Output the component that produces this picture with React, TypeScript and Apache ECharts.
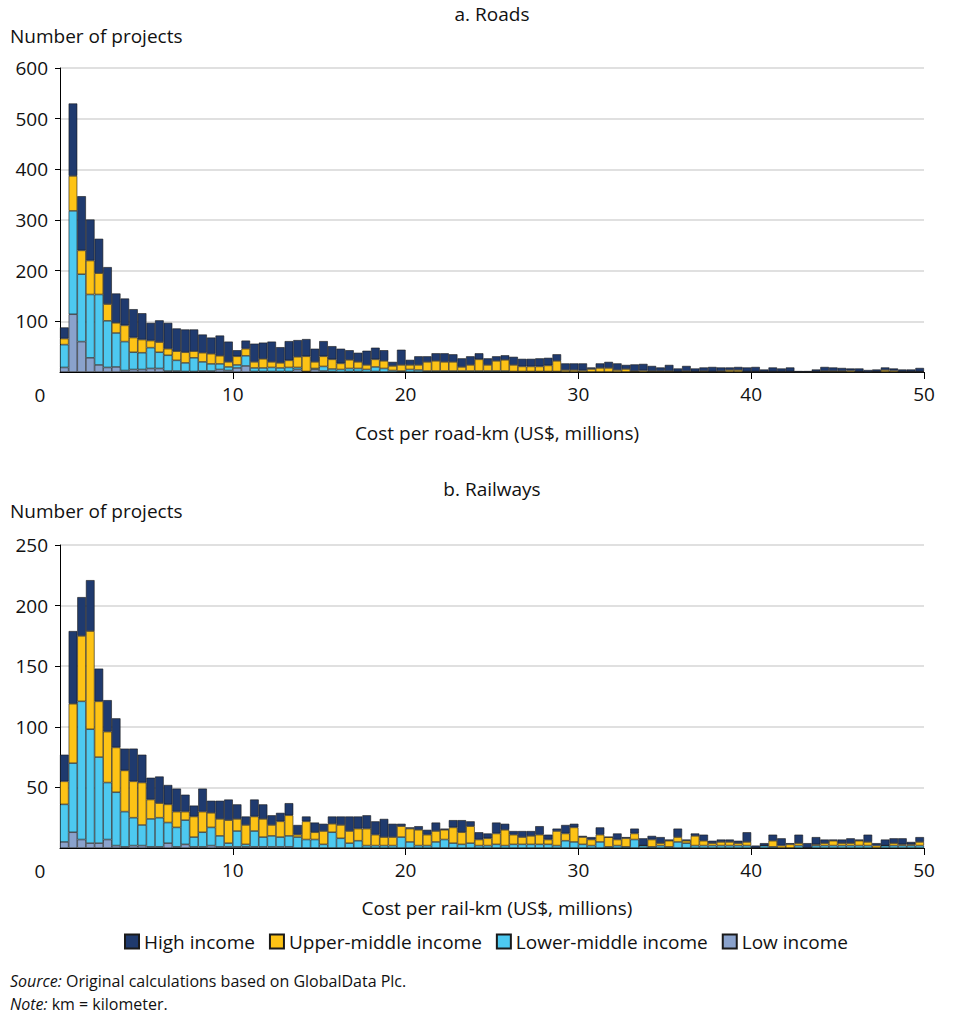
import React, { useEffect, useRef } from "react";
import * as echarts from "echarts";

// Bins of US$0.5 million from 0 to 50
const BIN_WIDTH = 0.5;
const binLabels: string[] = Array.from({ length: 100 }, (_, i) => `${BIN_WIDTH * i}–${BIN_WIDTH * (i + 1)}`);

const seriesNames = ["High income", "Upper-middle income", "Lower-middle income", "Low income"];
const xTickLabels = ["0", "10", "20", "30", "40", "50"];

// a. Roads (number of projects per bin)
const roadsLow = [9,114,60,28,14,9,10,3,5,5,7,7,2,2,1,1,2,2,5,3,8,12,1,1,1,1,1,5,1,5,2,1,0,1,1,0,1,0,0,0,0,0,0,0,0,0,0,0,0,0,0,0,0,0,0,0,0,0,0,0,0,0,0,0,0,0,0,0,0,0,0,0,0,0,0,0,0,0,0,0,0,0,0,0,0,0,0,0,0,0,0,0,0,0,0,0,0,0,0,0];
const roadsLowerMid = [45,204,133,125,139,92,67,57,34,33,41,32,31,21,17,27,18,14,11,7,6,20,7,7,8,7,8,4,0,2,9,5,5,6,6,5,9,7,3,2,5,4,2,2,2,2,2,2,2,2,2,2,1,1,1,1,1,1,0,0,0,0,0,0,0,0,0,0,0,0,0,0,0,0,0,0,0,0,0,0,0,0,0,0,0,0,0,0,0,0,0,0,0,0,0,0,0,0,0,0];
const roadsUpperMid = [12,69,47,67,42,33,20,32,29,26,14,20,13,18,21,13,18,20,16,10,17,14,12,18,11,10,14,21,30,13,20,19,12,17,13,9,15,15,9,12,9,10,18,20,18,18,8,12,23,12,20,22,13,10,10,10,12,21,4,4,3,6,8,8,4,6,2,3,2,2,2,1,2,1,2,1,2,4,4,1,1,1,1,1,1,0,0,1,2,2,2,3,1,0,1,4,3,1,1,1];
const roadsHigh = [22,143,107,81,68,73,58,53,56,52,35,43,51,45,45,43,36,32,40,40,12,16,36,32,40,31,38,33,34,26,30,26,29,19,18,28,23,21,8,30,10,17,11,15,17,15,17,17,12,13,9,9,16,15,15,16,15,13,13,13,14,3,9,12,13,8,13,13,10,7,12,6,10,6,7,9,7,5,6,8,9,4,8,6,8,2,2,4,8,7,6,4,6,4,4,5,4,4,4,7];

// b. Railways (number of projects per bin)
const railLow = [5,13,7,4,4,7,2,1,2,2,1,1,4,1,3,1,1,2,1,1,1,1,1,1,1,1,1,0,0,0,0,0,0,0,0,0,0,0,0,0,0,0,0,0,0,0,0,0,0,0,0,0,0,0,0,0,0,0,0,0,0,0,0,0,0,0,0,0,0,0,0,0,0,0,0,0,0,0,0,0,0,0,0,0,0,0,0,0,0,0,0,0,0,0,0,0,0,0,0,0];
const railLowerMid = [31,57,114,94,71,47,44,29,23,17,23,24,17,16,20,8,12,15,9,3,13,2,13,8,9,8,9,9,7,7,3,13,8,4,6,2,2,2,2,9,5,2,2,5,7,4,3,4,2,2,3,2,3,3,3,3,3,2,6,5,3,2,5,1,2,1,7,2,1,2,1,5,4,2,2,2,2,2,2,2,0,2,1,0,0,2,0,2,2,2,2,2,2,2,0,2,2,2,2,2];
const railUpperMid = [19,49,54,81,46,42,37,34,30,35,16,12,15,13,7,17,17,12,14,19,10,16,12,15,9,13,17,2,15,6,11,7,11,10,10,14,9,7,7,9,11,13,9,9,8,13,10,14,5,6,9,13,8,6,7,8,4,12,6,12,6,5,6,8,5,7,5,0,6,2,5,4,2,8,4,2,3,3,2,3,0,0,5,2,3,2,0,1,2,4,2,2,4,3,2,0,2,1,1,3];
const railHigh = [22,60,32,42,27,26,24,18,27,23,18,22,16,19,14,9,19,10,15,17,12,7,14,12,8,7,10,8,4,8,6,6,7,12,10,11,11,15,11,2,1,3,4,7,1,6,10,4,6,4,9,5,3,5,4,7,4,2,7,3,1,2,6,0,5,1,4,6,3,5,1,7,1,2,5,2,2,2,2,8,2,2,5,6,1,7,4,6,3,1,3,4,1,6,2,5,4,5,2,4];

const COLORS: Record<string, string> = {
  "High income": "#1f3a6e",
  "Upper-middle income": "#fdc316",
  "Lower-middle income": "#4dc9f0",
  "Low income": "#8aa2cc",
};

const FONT = "'Open Sans', sans-serif";

function makeSeries(gridIndex: number, data: Record<string, number[]>) {
  const order = ["Low income", "Lower-middle income", "Upper-middle income", "High income"];
  return order.map((name) => ({
    type: "bar",
    name,
    xAxisIndex: gridIndex * 2,
    yAxisIndex: gridIndex,
    stack: "s" + gridIndex,
    barCategoryGap: "0%",
    barGap: "0%",
    data: data[name],
    itemStyle: { color: COLORS[name], borderColor: "#1a1a1a", borderWidth: 0.6 },
  }));
}

export default function App() {
  const ref = useRef<HTMLDivElement>(null);
  useEffect(() => {
    if (!ref.current) return;
    const chart = echarts.init(ref.current, null, { renderer: "svg" });
    const catAxis = (gridIndex: number) => ({
      type: "category",
      gridIndex,
      position: "bottom",
      data: binLabels,
      boundaryGap: true,
      axisLine: { show: true, lineStyle: { color: "#000", width: 1 } },
      axisTick: { show: false },
      axisLabel: { show: false },
      splitLine: { show: false },
    });
    const valAxis = (gridIndex: number) => ({
      type: "value",
      gridIndex,
      position: "bottom",
      min: 0,
      max: 50,
      interval: 10,
      axisLine: { show: false },
      axisTick: { show: true, length: 7, lineStyle: { color: "#000" } },
      axisLabel: {
        showMinLabel: false,
        margin: 12,
        fontSize: 19,
        color: "#111",
        fontFamily: FONT,
        formatter: (v: number) => xTickLabels[Math.round(v / 10)] ?? String(v),
      },
      splitLine: { show: false },
    });
    const yAxisBase = (gridIndex: number, max: number, interval: number) => ({
      type: "value",
      gridIndex,
      min: 0,
      max,
      interval,
      axisLine: { show: true, lineStyle: { color: "#000", width: 1 } },
      axisTick: { show: true, length: 5, lineStyle: { color: "#000" } },
      axisLabel: { showMinLabel: false, margin: 12, fontSize: 19, color: "#111", fontFamily: FONT },
      splitLine: { show: true, lineStyle: { color: "#d6d6d6", width: 1.5 } },
    });
    const txt = (text: string, x: number, y: number, align: string, size = 19) => ({
      type: "text",
      x,
      y,
      style: {
        text,
        fontSize: size,
        fontFamily: FONT,
        fill: "#111",
        textAlign: align,
        textVerticalAlign: "middle",
      },
    });
    const richNote = (label: string, rest: string, y: number) => ({
      type: "text",
      x: 10,
      y,
      style: {
        text: `{i|${label}} ${rest}`,
        fontSize: 16,
        fontFamily: FONT,
        fill: "#111",
        textVerticalAlign: "middle",
        rich: { i: { fontStyle: "italic", fontSize: 16, fontFamily: FONT, fill: "#111" } },
      },
    });
    chart.setOption({
      animation: false,
      textStyle: { fontFamily: FONT },
      grid: [
        { left: 60, top: 68, width: 864, height: 304 },
        { left: 60, top: 545, width: 864, height: 303 },
      ],
      xAxis: [catAxis(0), valAxis(0), catAxis(1), valAxis(1)],
      yAxis: [yAxisBase(0, 600, 100), yAxisBase(1, 250, 50)],
      legend: {
        data: seriesNames,
        left: "center",
        top: 927,
        itemWidth: 14,
        itemHeight: 14,
        itemGap: 14,
        icon: "rect",
        textStyle: { fontSize: 19, color: "#111", fontFamily: FONT },
      },
      series: [
        ...makeSeries(0, {
          "Low income": roadsLow,
          "Lower-middle income": roadsLowerMid,
          "Upper-middle income": roadsUpperMid,
          "High income": roadsHigh,
        }),
        ...makeSeries(1, {
          "Low income": railLow,
          "Lower-middle income": railLowerMid,
          "Upper-middle income": railUpperMid,
          "High income": railHigh,
        }),
      ],
      graphic: [
        txt("a. Roads", 492, 14, "center"),
        txt("Number of projects", 10, 36, "left"),
        txt(xTickLabels[0], 40, 395, "center"),
        txt("Cost per road-km (US$, millions)", 497, 433, "center"),
        txt("b. Railways", 492, 489, "center"),
        txt("Number of projects", 10, 511, "left"),
        txt(xTickLabels[0], 40, 871, "center"),
        txt("Cost per rail-km (US$, millions)", 497, 908, "center"),
        richNote("Source:", "Original calculations based on GlobalData Plc.", 981),
        richNote("Note:", "km = kilometer.", 1004),
      ],
    });
    return () => chart.dispose();
  }, []);
  return (
    <div
      ref={ref}
      style={{ position: "fixed", left: 0, top: 0, width: 972, height: 1019, background: "#fff" }}
    />
  );
}
